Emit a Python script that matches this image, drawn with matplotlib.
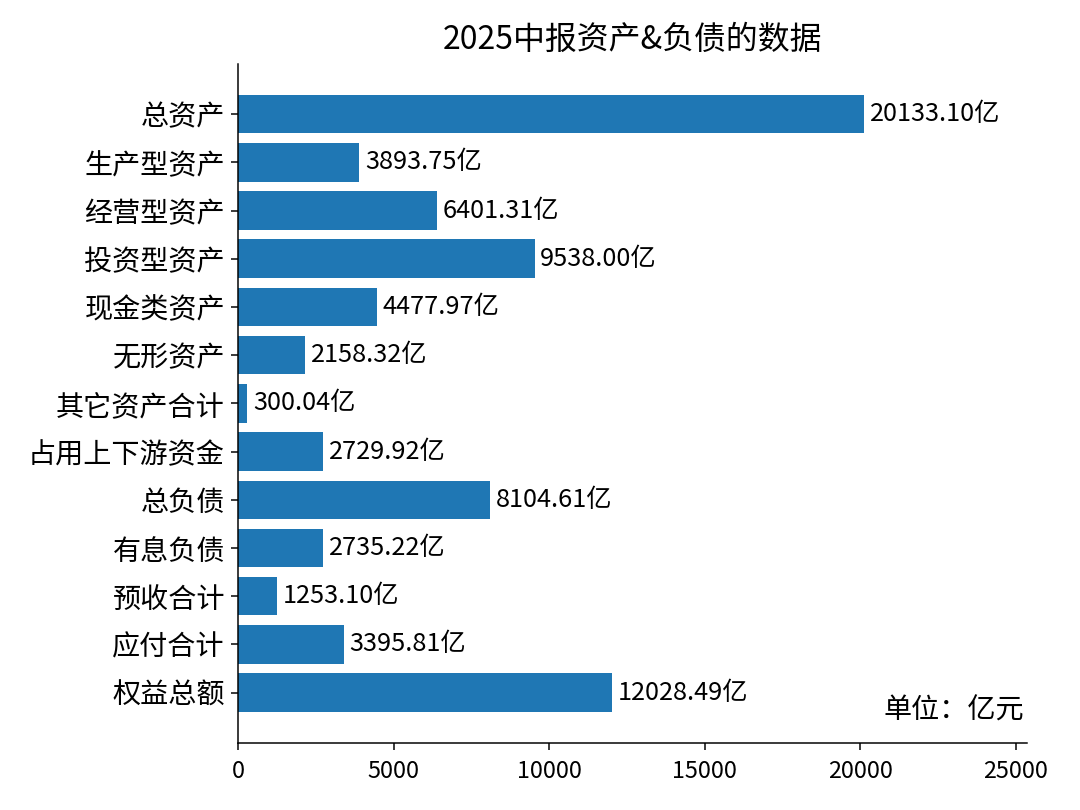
import matplotlib
matplotlib.use("Agg")
import matplotlib.pyplot as plt

plt.rcParams['font.family'] = ['Noto Sans CJK SC', 'DejaVu Sans']
plt.rcParams['axes.unicode_minus'] = False

# 2025 中报 资产/负债 数据（亿元）
items = ["总资产", "生产型资产", "经营型资产", "投资型资产", "现金类资产", "无形资产",
         "其它资产合计", "占用上下游资金", "总负债", "有息负债", "预收合计", "应付合计", "权益总额"]
values = [20133.10, 3893.75, 6401.31, 9538.00, 4477.97, 2158.32,
          300.04, 2729.92, 8104.61, 2735.22, 1253.10, 3395.81, 12028.49]

fig, ax = plt.subplots(figsize=(8, 6), dpi=135)

bars = ax.barh(items, values, color="#1f77b4", height=0.8)
ax.invert_yaxis()
ax.bar_label(bars, labels=[f"{v:.2f}亿" for v in values], padding=3, fontsize=13.5)

ax.set_xlim(0, max(values) * 1.26)
ax.set_title("2025中报资产&负债的数据", fontsize=17, pad=8)
ax.tick_params(axis="y", labelsize=15)
ax.tick_params(axis="x", labelsize=12.5, pad=5.5)
ax.spines["top"].set_visible(False)
ax.spines["right"].set_visible(False)
ax.text(0.996, 0.047, "单位：亿元", transform=ax.transAxes, ha="right", va="center", fontsize=15)

fig.subplots_adjust(left=0.2204, right=0.951, top=0.921, bottom=0.083)
plt.savefig("out.png")
